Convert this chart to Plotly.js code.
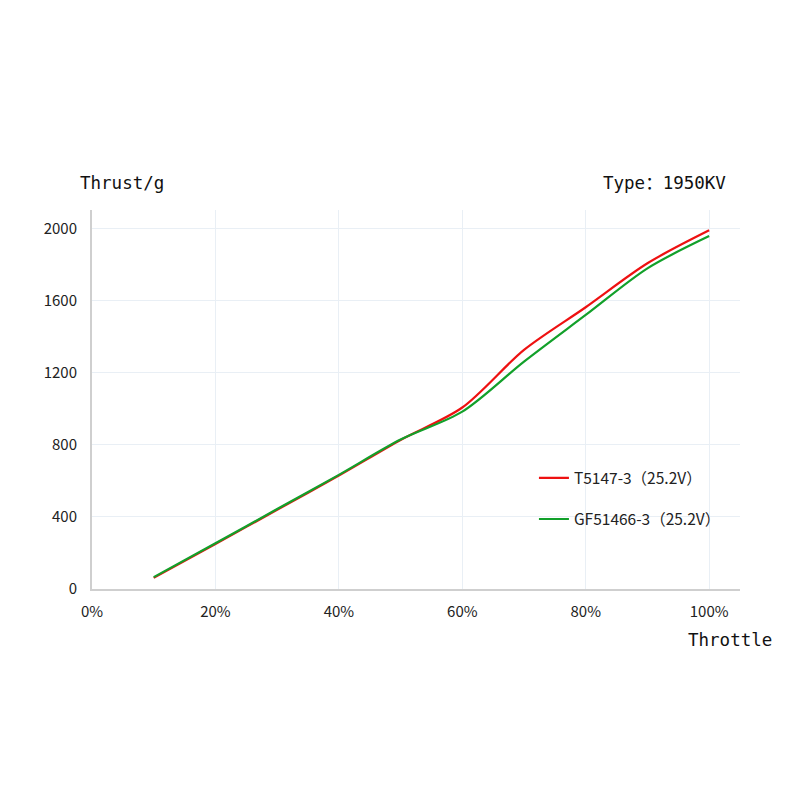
<!DOCTYPE html>
<html>
<head>
<meta charset="utf-8">
<script src="https://cdn.plot.ly/plotly-3.0.1.min.js"></script>
<style>html,body{margin:0;padding:0;background:#fff}#chart{width:800px;height:800px}</style>
</head>
<body>
<div id="chart"></div>
<script>
var throttle = [10, 20, 30, 40, 50, 60, 70, 80, 90, 100];
var t5147 = [62, 250, 440, 630, 828, 1008, 1328, 1565, 1809, 1992];
var gf51466 = [66, 254, 444, 634, 830, 985, 1263, 1522, 1781, 1960];
var seriesNames = ['T5147-3（25.2V）', 'GF51466-3（25.2V）'];
var xTicks = [0, 20, 40, 60, 80, 100];
var xTickText = ['0%', '20%', '40%', '60%', '80%', '100%'];
var yTicks = [0, 400, 800, 1200, 1600, 2000];

var tickFont = {family: 'Noto Sans CJK SC, Noto Sans, sans-serif', size: 15, color: '#222'};
var titleFont = {family: 'DejaVu Sans Mono, Noto Sans CJK SC, monospace', size: 17.5, color: '#111'};

var traces = [
  {x: throttle, y: t5147, name: seriesNames[0], type: 'scatter', mode: 'lines',
   line: {color: '#ee1111', width: 2.2, shape: 'spline', smoothing: 0.85}, legendgroup: 'a'},
  {x: throttle, y: gf51466, name: seriesNames[1], type: 'scatter', mode: 'lines',
   line: {color: '#12a02a', width: 2.2, shape: 'spline', smoothing: 0.85}, legendgroup: 'b'}
];

var layout = {
  width: 800, height: 800,
  margin: {l: 92, r: 60, t: 210, b: 211},
  paper_bgcolor: '#ffffff', plot_bgcolor: '#ffffff',
  showlegend: true,
  legend: {x: 0.682, y: 0.337, xanchor: 'left', yanchor: 'top', bgcolor: 'rgba(0,0,0,0)',
           font: {family: 'Noto Sans CJK SC, Noto Sans, sans-serif', size: 15.5, color: '#222'},
           traceorder: 'grouped', tracegroupgap: 18},
  xaxis: {range: [0, 105], tickmode: 'array', tickvals: xTicks, ticktext: xTickText, showgrid: true, gridcolor: '#e9eff5',
          zeroline: false, showline: true, linecolor: '#cfcfcf', linewidth: 2, ticks: '',
          ticklabelstandoff: 8, tickfont: tickFont, fixedrange: true},
  yaxis: {range: [0, 2105], tickmode: 'array', tickvals: yTicks, showgrid: true, gridcolor: '#e9eff5',
          zeroline: false, showline: true, linecolor: '#cfcfcf', linewidth: 2, ticks: '',
          ticklabelstandoff: 10, tickfont: tickFont, fixedrange: true},
  annotations: [
    {text: 'Thrust/g', xref: 'paper', yref: 'paper', x: -0.022, y: 1.071, xanchor: 'left', yanchor: 'middle',
     showarrow: false, font: titleFont},
    {text: 'Type：1950KV', xref: 'paper', yref: 'paper', x: 0.981, y: 1.071, xanchor: 'right', yanchor: 'middle',
     showarrow: false, font: titleFont},
    {text: 'Throttle', xref: 'paper', yref: 'paper', x: 0.917, y: -0.135, xanchor: 'left', yanchor: 'middle',
     showarrow: false, font: {family: 'DejaVu Sans Mono, monospace', size: 17.5, color: '#111'}}
  ]
};

Plotly.newPlot('chart', traces, layout, {displayModeBar: false, staticPlot: true});
</script>
</body>
</html>
